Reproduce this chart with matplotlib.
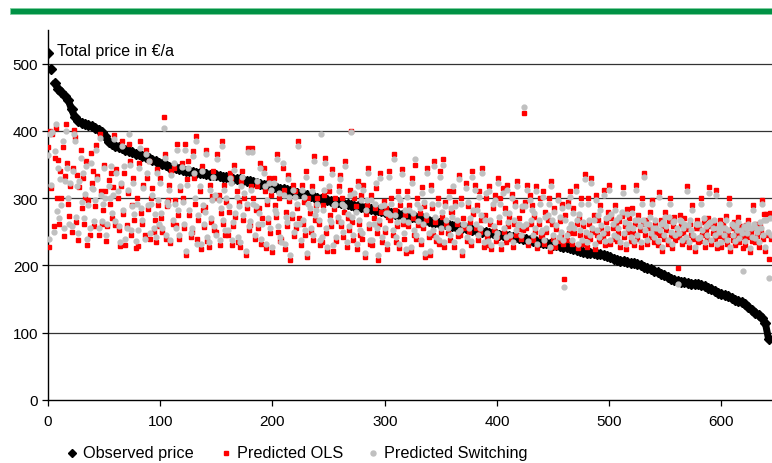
import numpy as np
import matplotlib.pyplot as plt
from matplotlib.patches import Rectangle
from matplotlib.lines import Line2D

plt.rcParams['font.family'] = ['Liberation Sans', 'DejaVu Sans']

# Observed price, sorted descending (every 3rd observation)
observed_idx = np.arange(0, 645, 3)
observed = [
    516, 492, 471, 463, 458, 452, 446, 432, 420, 415, 412, 410, 409, 407, 405, 402,
    398, 392, 383, 380, 378, 376, 374, 372, 370, 368, 366, 365, 363, 361, 359, 357,
    355, 353, 351, 349, 347, 346, 345, 344, 342, 341, 340, 339, 338, 338, 337, 336,
    335, 335, 334, 333, 332, 331, 330, 329, 328, 328, 327, 326, 325, 324, 323, 321,
    320, 319, 318, 317, 315, 314, 313, 312, 311, 309, 308, 307, 305, 304, 303, 302,
    300, 299, 298, 297, 296, 295, 294, 293, 292, 291, 290, 289, 288, 287, 286, 285,
    284, 283, 282, 281, 280, 279, 278, 277, 276, 275, 274, 273, 272, 272, 271, 270,
    268, 266, 265, 264, 263, 262, 261, 260, 259, 258, 257, 256, 255, 254, 253, 252,
    251, 250, 249, 248, 248, 247, 246, 245, 244, 244, 243, 242, 241, 240, 239, 238,
    237, 236, 235, 234, 233, 232, 231, 230, 229, 228, 227, 226, 224, 223, 222, 220,
    219, 218, 218, 217, 217, 215, 214, 212, 210, 208, 207, 206, 205, 204, 204, 202,
    200, 198, 196, 194, 192, 190, 188, 186, 183, 180, 178, 177, 176, 175, 174, 173,
    173, 172, 171, 169, 167, 165, 162, 159, 157, 156, 154, 152, 149, 147, 145, 142,
    138, 134, 130, 126, 122, 115, 90,
]

# Predictions, one value per observation (0..644)
pred_idx = np.arange(0, 645)
pred_ols = [
    376, 228, 400, 315, 395, 259, 360, 405, 300, 357, 262, 340, 300, 376, 244, 333, 410, 352, 292, 273,
    318, 249, 345, 402, 391, 265, 335, 238, 316, 372, 286, 330, 262, 300, 355, 230, 298, 246, 367, 322,
    340, 258, 288, 379, 333, 246, 395, 310, 261, 282, 350, 310, 236, 259, 327, 292, 338, 270, 316, 394,
    260, 343, 300, 252, 229, 318, 385, 276, 338, 231, 260, 308, 381, 355, 245, 290, 330, 268, 226, 300,
    229, 352, 385, 278, 262, 320, 245, 372, 330, 284, 355, 240, 300, 315, 249, 268, 235, 344, 290, 258,
    330, 270, 249, 420, 365, 240, 288, 298, 320, 233, 340, 262, 345, 298, 260, 380, 275, 239, 312, 353,
    300, 255, 380, 215, 328, 355, 275, 242, 250, 370, 330, 292, 392, 240, 268, 310, 225, 348, 283, 257,
    287, 372, 236, 228, 320, 265, 303, 340, 252, 300, 250, 366, 305, 230, 278, 385, 262, 320, 245, 294,
    245, 280, 338, 330, 230, 259, 350, 272, 310, 235, 295, 228, 326, 340, 268, 300, 215, 286, 374, 252,
    260, 318, 375, 300, 240, 282, 318, 255, 285, 352, 232, 270, 345, 310, 226, 292, 264, 330, 248, 305,
    220, 330, 290, 272, 365, 250, 300, 236, 240, 345, 312, 225, 280, 258, 335, 296, 208, 270, 320, 244,
    310, 255, 285, 385, 270, 230, 320, 262, 295, 245, 340, 212, 300, 278, 250, 318, 238, 362, 268, 290,
    300, 262, 230, 330, 235, 290, 305, 360, 248, 222, 310, 275, 258, 343, 222, 284, 300, 236, 266, 318,
    335, 258, 300, 242, 280, 355, 228, 270, 252, 312, 400, 265, 238, 300, 288, 225, 326, 262, 246, 305,
    240, 320, 212, 276, 290, 345, 255, 232, 305, 230, 270, 285, 315, 248, 208, 262, 338, 280, 235, 296,
    250, 285, 225, 272, 340, 268, 300, 245, 365, 282, 235, 258, 310, 226, 290, 344, 262, 240, 275, 218,
    310, 258, 290, 222, 330, 270, 246, 350, 240, 300, 260, 278, 232, 316, 255, 288, 212, 268, 345, 242,
    215, 320, 285, 245, 355, 265, 236, 300, 232, 340, 250, 272, 358, 228, 294, 262, 248, 310, 238, 280,
    280, 310, 228, 295, 262, 244, 335, 245, 300, 215, 270, 255, 322, 236, 288, 250, 264, 230, 340, 276,
    320, 255, 290, 238, 310, 250, 268, 345, 228, 275, 300, 242, 230, 318, 262, 224, 286, 252, 305, 236,
    242, 330, 265, 300, 225, 315, 250, 285, 235, 320, 258, 272, 240, 306, 228, 262, 295, 246, 326, 254,
    270, 240, 282, 252, 426, 295, 255, 320, 230, 305, 262, 290, 238, 272, 250, 318, 226, 262, 300, 244,
    245, 310, 232, 280, 250, 268, 300, 222, 325, 262, 240, 286, 228, 254, 305, 236, 266, 244, 292, 232,
    180, 275, 238, 295, 248, 310, 255, 232, 285, 248, 318, 262, 226, 270, 245, 300, 232, 258, 336, 244,
    228, 300, 262, 240, 330, 250, 275, 225, 305, 245, 268, 236, 290, 254, 242, 312, 230, 264, 248, 280,
    320, 232, 270, 255, 240, 290, 262, 236, 248, 266, 228, 274, 316, 242, 258, 225, 284, 250, 270, 236,
    285, 248, 230, 262, 319, 240, 275, 252, 228, 300, 262, 337, 245, 268, 232, 256, 280, 242, 298, 250,
    235, 262, 248, 230, 309, 245, 268, 222, 258, 240, 280, 252, 232, 266, 300, 244, 226, 258, 272, 238,
    250, 196, 242, 275, 260, 232, 248, 270, 236, 318, 254, 228, 262, 246, 290, 240, 222, 256, 268, 235,
    255, 236, 300, 245, 264, 228, 252, 240, 270, 316, 258, 232, 248, 262, 240, 312, 226, 250, 244, 268,
    228, 262, 240, 250, 274, 232, 245, 300, 222, 256, 238, 264, 230, 252, 246, 272, 235, 258, 242, 226,
    252, 230, 260, 242, 268, 220, 248, 236, 290, 255, 235, 262, 244, 228, 258, 250, 298, 240, 276, 222,
    276, 245, 210, 278, 240,
]
pred_switching = [
    364, 240, 395, 320, 398, 250, 370, 410, 281, 345, 270, 328, 290, 385, 255, 326, 400, 345, 300, 262,
    322, 258, 340, 395, 385, 272, 318, 248, 326, 360, 295, 338, 270, 306, 348, 240, 290, 255, 352, 315,
    313, 266, 298, 372, 328, 255, 390, 305, 266, 291, 345, 300, 245, 262, 318, 300, 348, 278, 305, 388,
    266, 338, 310, 258, 235, 322, 378, 282, 348, 240, 255, 312, 395, 350, 252, 288, 322, 276, 236, 292,
    252, 345, 375, 286, 268, 315, 240, 365, 338, 290, 355, 248, 292, 305, 255, 276, 242, 338, 298, 262,
    322, 278, 256, 405, 360, 246, 295, 290, 312, 238, 335, 268, 352, 292, 255, 372, 282, 245, 318, 346,
    295, 262, 372, 222, 320, 345, 282, 248, 256, 362, 338, 300, 385, 232, 275, 318, 232, 340, 290, 262,
    280, 365, 242, 235, 312, 270, 298, 332, 258, 305, 245, 358, 298, 238, 285, 378, 268, 312, 252, 300,
    252, 288, 330, 322, 238, 265, 342, 278, 302, 242, 288, 235, 318, 332, 275, 308, 222, 292, 368, 258,
    266, 312, 368, 292, 246, 288, 325, 262, 278, 345, 240, 262, 338, 318, 232, 298, 270, 322, 255, 312,
    228, 322, 282, 278, 358, 258, 308, 242, 235, 352, 305, 232, 272, 265, 328, 302, 215, 276, 312, 250,
    302, 262, 292, 378, 262, 238, 312, 268, 302, 252, 332, 218, 292, 285, 256, 310, 245, 355, 275, 282,
    292, 268, 238, 395, 242, 282, 312, 352, 255, 228, 318, 268, 265, 336, 230, 290, 292, 242, 272, 310,
    328, 265, 292, 250, 288, 348, 235, 276, 258, 305, 398, 272, 245, 308, 280, 232, 318, 268, 252, 298,
    248, 312, 218, 282, 298, 338, 262, 238, 298, 238, 262, 292, 322, 255, 215, 268, 330, 288, 242, 290,
    256, 278, 232, 278, 332, 275, 292, 252, 358, 275, 242, 265, 302, 232, 298, 336, 268, 248, 282, 225,
    302, 265, 282, 228, 322, 278, 252, 358, 246, 292, 266, 285, 238, 308, 262, 295, 218, 275, 338, 248,
    222, 312, 292, 252, 348, 272, 242, 292, 238, 332, 256, 280, 350, 235, 288, 268, 255, 302, 245, 286,
    272, 318, 235, 288, 268, 250, 328, 252, 292, 222, 262, 262, 315, 242, 295, 256, 270, 236, 332, 282,
    312, 262, 282, 245, 302, 256, 275, 338, 235, 268, 308, 248, 236, 310, 268, 230, 292, 258, 298, 242,
    248, 322, 272, 292, 232, 308, 256, 278, 242, 312, 265, 278, 246, 300, 235, 268, 288, 252, 318, 260,
    262, 246, 288, 258, 436, 288, 262, 312, 236, 298, 268, 282, 245, 278, 256, 310, 232, 268, 292, 250,
    252, 302, 238, 272, 256, 275, 292, 228, 318, 268, 246, 280, 235, 260, 298, 242, 272, 250, 285, 238,
    168, 268, 245, 288, 255, 302, 262, 238, 278, 255, 310, 268, 232, 276, 252, 292, 238, 265, 328, 250,
    235, 292, 268, 246, 322, 256, 268, 232, 298, 252, 275, 242, 282, 260, 248, 305, 236, 270, 255, 272,
    312, 238, 276, 262, 246, 282, 268, 242, 255, 272, 235, 280, 308, 248, 265, 232, 276, 256, 262, 242,
    278, 255, 236, 268, 312, 246, 268, 258, 235, 292, 268, 332, 252, 262, 238, 262, 272, 248, 292, 256,
    242, 268, 255, 236, 302, 252, 262, 228, 265, 246, 272, 258, 238, 272, 292, 250, 232, 265, 266, 245,
    256, 172, 248, 268, 266, 238, 255, 262, 242, 310, 260, 235, 268, 252, 282, 246, 228, 262, 262, 241,
    262, 242, 292, 252, 270, 235, 258, 246, 262, 308, 265, 238, 255, 268, 246, 305, 232, 256, 250, 262,
    235, 256, 246, 256, 268, 238, 252, 292, 228, 262, 245, 258, 236, 258, 252, 265, 241, 252, 248, 192,
    258, 236, 255, 248, 262, 226, 255, 242, 282, 262, 241, 256, 250, 235, 265, 256, 292, 246, 268, 228,
    268, 250, 182, 270, 246,
]

fig = plt.figure(figsize=(7.72, 4.64), dpi=100)
ax = fig.add_axes([48 / 772, 63 / 464, 1 - 48 / 772, 370 / 464])

# green band on top
fig.add_artist(Rectangle((10 / 772, 1 - 15 / 464), 1 - 10 / 772, 6 / 464,
                         transform=fig.transFigure, facecolor='#009245',
                         edgecolor='#7fcf9f', linewidth=0.6, clip_on=False))

# observed: markers, plus a thick band once the points get dense
ax.plot(observed_idx[2:], observed[2:], color='black', linewidth=5,
        solid_capstyle='round', zorder=3)
ax.plot(observed_idx, observed, linestyle='none', marker='D', markersize=5,
        color='black', zorder=3)
ax.plot(pred_idx, pred_ols, linestyle='none', marker='s', markersize=3.3,
        color='#ff0000', zorder=4)
ax.plot(pred_idx, pred_switching, linestyle='none', marker='o', markersize=3.5,
        color='#c0c0c0', zorder=5)

ax.set_xlim(0, 645)
ax.set_ylim(0, 550)
ax.set_xticks(range(0, 601, 100))
ax.set_yticks(range(0, 501, 100))
for y in range(100, 501, 100):
    ax.axhline(y, color='#333333', linewidth=0.9, zorder=1)

for s in ['top', 'right']:
    ax.spines[s].set_visible(False)
ax.spines['left'].set_linewidth(1.0)
ax.spines['bottom'].set_linewidth(1.0)
ax.tick_params(axis='both', direction='out', length=4, width=0.9,
               labelsize=11, pad=3)
ax.tick_params(axis='x', pad=6)

ax.text(0.012, 0.945, 'Total price in €/a', transform=ax.transAxes,
        fontsize=11.5, va='center', ha='left')

# legend, laid out by hand along the bottom
legend_y = 1 - 454 / 464
legend_items = [
    (72, 'D', 4.5, 'black', 'Observed price'),
    (226, 's', 3.4, '#ff0000', 'Predicted OLS'),
    (373, 'o', 3.6, '#c0c0c0', 'Predicted Switching'),
]
for x, marker, size, color, label in legend_items:
    fig.add_artist(Line2D([x / 772], [legend_y], marker=marker, markersize=size,
                          color=color, linestyle='none', transform=fig.transFigure))
    fig.text((x + 11) / 772, legend_y, label, fontsize=11.7, va='center', ha='left')

fig.savefig('out.png', dpi=100)
